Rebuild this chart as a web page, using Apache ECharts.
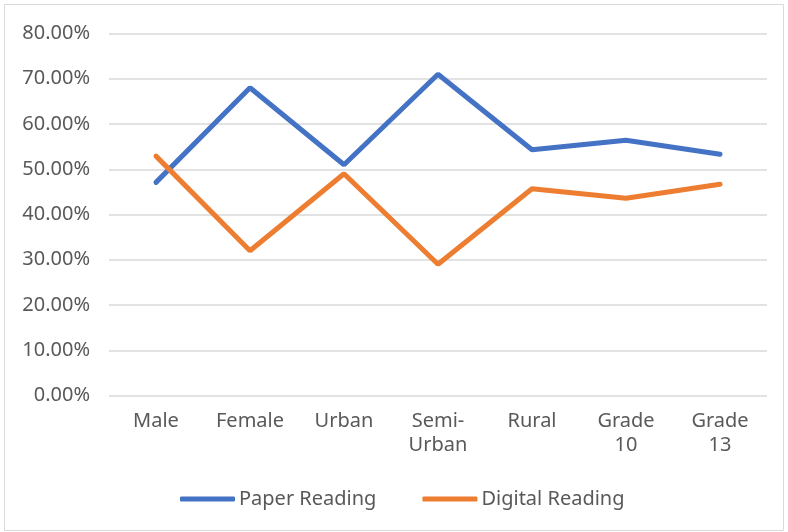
<!DOCTYPE html>
<html>
<head>
<meta charset="utf-8">
<script src="https://cdn.jsdelivr.net/npm/echarts@6/dist/echarts.min.js"></script>
<style>
  html, body { margin: 0; padding: 0; background: #fff; }
  #main { width: 788px; height: 532px; }
</style>
</head>
<body>
<div id="main"></div>
<script>
var categories = ['Male', 'Female', 'Urban', 'Semi-\nUrban', 'Rural', 'Grade\n10', 'Grade\n13'];
var paperReading = [47.1, 68.0, 51.0, 71.0, 54.3, 56.4, 53.3];
var digitalReading = [52.9, 32.0, 49.0, 29.0, 45.7, 43.6, 46.7];

var textColor = '#595959';
var font = 'Noto Sans';

var myChart = echarts.init(document.getElementById('main'));
var option = {
    backgroundColor: '#fff',
    animation: false,
    graphic: [{
        type: 'rect',
        shape: { x: 4.5, y: 4.5, width: 779, height: 526 },
        style: { fill: 'none', stroke: '#D9D9D9', lineWidth: 1 }
    }],
    grid: {
        left: 109, right: 21, top: 33.5, bottom: 136.5,
        outerBoundsMode: 'none'
    },
    legend: {
        left: 175, top: 484,
        icon: 'roundRect',
        itemWidth: 55, itemHeight: 5, itemGap: 46,
        textStyle: { color: textColor, fontSize: 20, fontFamily: font, padding: [0, 0, 0, -1] },
        data: ['Paper Reading', 'Digital Reading']
    },
    xAxis: {
        type: 'category',
        data: categories,
        axisLine: { show: false },
        axisTick: { show: false },
        axisLabel: {
            color: textColor, fontSize: 20, fontFamily: font,
            lineHeight: 24, margin: 14, interval: 0
        }
    },
    yAxis: {
        type: 'value',
        min: 0, max: 80, interval: 10,
        axisLine: { show: false },
        axisTick: { show: false },
        splitLine: { lineStyle: { color: '#D9D9D9', width: 1.5 } },
        axisLabel: {
            color: textColor, fontSize: 20, fontFamily: font, margin: 19,
            formatter: function (v) { return v.toFixed(2) + '%'; }
        }
    },
    series: [{
        name: 'Paper Reading',
        type: 'line',
        symbol: 'none',
        data: paperReading,
        itemStyle: { color: '#4472C4' },
        lineStyle: { color: '#4472C4', width: 5, cap: 'round' }
    }, {
        name: 'Digital Reading',
        type: 'line',
        symbol: 'none',
        data: digitalReading,
        itemStyle: { color: '#ED7D31' },
        lineStyle: { color: '#ED7D31', width: 5, cap: 'round' }
    }]
};
myChart.setOption(option);
</script>
</body>
</html>
